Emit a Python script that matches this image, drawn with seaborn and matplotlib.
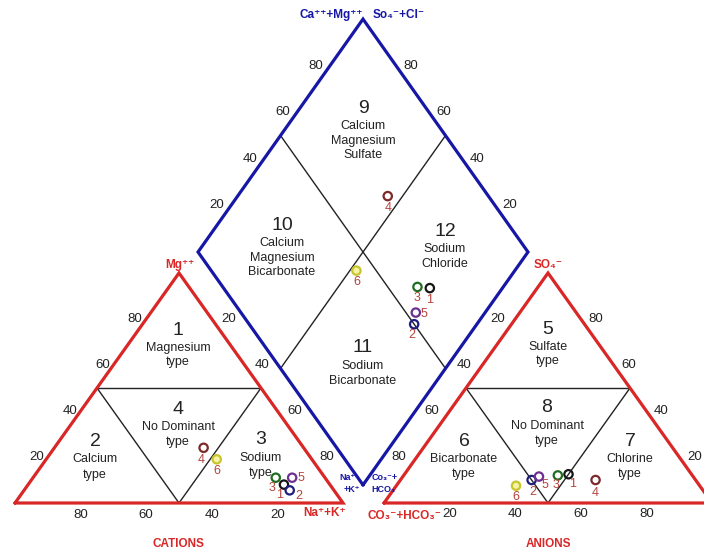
import numpy as np
import pandas as pd
import matplotlib
matplotlib.use("Agg")
import matplotlib.pyplot as plt
import seaborn as sns

# ---------------- data (percent of meq) ----------------
samples = ["1", "2", "3", "4", "5", "6"]
ca = [14.0, 13.5, 15.0, 30.5, 10.0, 29.0]
mg = [8.0, 5.5, 11.0, 24.0, 11.0, 19.0]
nak = [78.0, 81.0, 74.0, 45.5, 79.0, 52.0]
hco3 = [37.5, 50.0, 41.0, 30.5, 47.0, 56.0]
so4 = [12.5, 10.0, 12.0, 10.0, 11.5, 7.5]
cl = [50.0, 40.0, 47.0, 59.5, 41.5, 36.5]
sample_colors = ["#151515", "#1e1e7e", "#1f6d22", "#7c2a2a", "#6c3090", "#c8c62a"]
tick_values = [20, 40, 60, 80]

sns.set_theme(style="white")
plt.rcParams['font.family'] = ['Liberation Sans', 'DejaVu Sans']

RED = "#d92626"
BLUE = "#1717a6"
DARK = "#222222"
LBL = "#b5433d"

W, HP = 704, 553
fig = plt.figure(figsize=(W / 100, HP / 100), dpi=100)
ax = fig.add_axes([0, 0, 1, 1])
X0, SX = 15.0, 3.28
Y0, SY = 503.0, 2.656
ax.set_xlim((0 - X0) / SX, (W - X0) / SX)
ax.set_ylim((Y0 - HP) / SY, Y0 / SY)
ax.axis('off')


def px(x, y):
    return ((x - X0) / SX, (Y0 - y) / SY)


H = 86.6
GAP = 12.5
RX = 100 + GAP
DBX, DBY = 106.1, 6.8
DW, DH = 50.3, 87.7


def cat_xy(c, m, n):
    return n + m / 2.0, m / 100.0 * H


def an_xy(h, s, c):
    return RX + c + s / 2.0, s / 100.0 * H


def dia_xy(a, b):
    return DBX + (a - b) / 100.0 * DW, DBY + (a + b) / 100.0 * DH


# ---------------- outlines ----------------
def tri(ox):
    return [ox, ox + 50, ox + 100, ox], [0, H, 0, 0]


for ox in (0, RX):
    ax.plot([ox + 25, ox + 75], [H / 2, H / 2], color=DARK, lw=1.0, zorder=2)
    ax.plot([ox + 25, ox + 50, ox + 75], [H / 2, 0, H / 2], color=DARK, lw=1.0, zorder=2)
    xs, ys = tri(ox)
    ax.plot(xs, ys, color=RED, lw=2.3, zorder=3, solid_joinstyle='miter')

dx = [DBX, DBX + DW, DBX, DBX - DW, DBX]
dy = [DBY, DBY + DH, DBY + 2 * DH, DBY + DH, DBY]
ax.plot([DBX - DW / 2, DBX + DW / 2], [DBY + 1.5 * DH, DBY + 0.5 * DH], color=DARK, lw=1.0, zorder=2)
ax.plot([DBX + DW / 2, DBX - DW / 2], [DBY + 1.5 * DH, DBY + 0.5 * DH], color=DARK, lw=1.0, zorder=2)
ax.plot(dx, dy, color=BLUE, lw=2.3, zorder=3, solid_joinstyle='miter')

# ---------------- points ----------------
rows = []
for i, s in enumerate(samples):
    x, y = cat_xy(ca[i], mg[i], nak[i])
    rows.append(dict(panel="cat", sample=s, x=x, y=y))
    x, y = an_xy(hco3[i], so4[i], cl[i])
    rows.append(dict(panel="an", sample=s, x=x, y=y))
    x, y = dia_xy(so4[i] + cl[i], ca[i] + mg[i])
    rows.append(dict(panel="dia", sample=s, x=x, y=y))
df = pd.DataFrame(rows)

pal = dict(zip(samples, sample_colors))
sns.scatterplot(data=df, x="x", y="y", hue="sample", palette=pal, s=36,
                legend=False, ax=ax, zorder=6)
coll = ax.collections[-1]
fcs = coll.get_facecolors()
coll.set_edgecolors(fcs)
new_fc = np.zeros_like(fcs)
for k, r in enumerate(df.itertuples()):
    if r.sample == "6":
        new_fc[k] = matplotlib.colors.to_rgba("#f3f39a", 0.9)
coll.set_facecolors(new_fc)
coll.set_linewidths(1.6)

# label offsets (pixels)
offsets = {
    "cat": {"1": (-4, 10), "2": (9, 6), "3": (-4, 10), "4": (-2, 12), "5": (9, 0), "6": (0, 12)},
    "an": {"1": (4, 10), "2": (1, 12), "3": (-2, 10), "4": (0, 13), "5": (6, 8), "6": (0, 11)},
    "dia": {"1": (0, 12), "2": (-2, 11), "3": (0, 11), "4": (0, 12), "5": (8, 1), "6": (0, 11)},
}
for r in df.itertuples():
    ox, oy = offsets[r.panel][r.sample]
    ax.annotate(r.sample, (r.x, r.y), xytext=(ox * 0.72, -oy * 0.72), textcoords="offset points",
                ha="center", va="center", fontsize=9, color=LBL, zorder=7)

# ---------------- tick labels ----------------
tk = dict(fontsize=9.5, color=DARK, ha="center", va="center")
P2X = 0.72 / 1.0
for v in tick_values:
    f = v / 100.0
    # cation left edge (Mg)
    x, y = f * 50, f * H
    ax.annotate(str(v), (x, y), xytext=(-11 * 0.72, 0), textcoords="offset points", **tk)
    # cation bottom (Ca)
    ax.annotate(str(v), (100 - v, 0), xytext=(0, -12 * 0.72), textcoords="offset points", **tk)
    # cation right edge
    ax.annotate(str(v), (50 + 50 * f, H * (1 - f)), xytext=(17 * 0.72, 0), textcoords="offset points", **tk)
    # anion left edge
    ax.annotate(str(v), (RX + 50 - 50 * f, H * (1 - f)), xytext=(-18 * 0.72, 0), textcoords="offset points", **tk)
    # anion right edge (SO4)
    ax.annotate(str(v), (RX + 100 - 50 * f, H * f), xytext=(15 * 0.72, 0), textcoords="offset points", **tk)
    # anion bottom (Cl)
    ax.annotate(str(v), (RX + v, 0), xytext=(0, -11 * 0.72), textcoords="offset points", **tk)
    # diamond upper-left edge (Ca+Mg)
    ax.annotate(str(v), (DBX - DW + f * DW, DBY + DH + f * DH), xytext=(-14 * 0.72, 0),
                textcoords="offset points", **tk)
    # diamond upper-right edge (SO4+Cl)
    ax.annotate(str(v), (DBX + DW - f * DW, DBY + DH + f * DH), xytext=(15 * 0.72, 0),
                textcoords="offset points", **tk)

# ---------------- region labels ----------------
def region(xp, yp, num, lines, dy=15):
    x, y = px(xp, yp)
    ax.text(x, y, num, fontsize=14, color=DARK, ha="center", va="center")
    for k, ln in enumerate(lines):
        x2, y2 = px(xp, yp + 18 + k * dy)
        ax.text(x2, y2, ln, fontsize=9, color=DARK, ha="center", va="center")


region(178, 330, "1", ["Magnesium", "type"], 14)
region(178, 409, "4", ["No Dominant", "type"])
region(95, 441, "2", ["Calcium", "type"], 16)
region(261, 440, "3", ["Sodium", "type"], 15)
region(548, 329, "5", ["Sulfate", "type"], 14)
region(547, 408, "8", ["No Dominant", "type"])
region(464, 441, "6", ["Bicarbonate", "type"])
region(630, 441, "7", ["Chlorine", "type"])
region(363, 108, "9", ["Calcium", "Magnesium", "Sulfate"], 14.5)
region(282, 225, "10", ["Calcium", "Magnesium", "Bicarbonate"], 14.5)
region(445, 231, "12", ["Sodium", "Chloride"], 15)
region(363, 348, "11", ["Sodium", "Bicarbonate"], 14.5)

# ---------------- axis titles ----------------
def lab(xp, yp, s, color, size, weight="bold"):
    x, y = px(xp, yp)
    ax.text(x, y, s, fontsize=size, color=color, ha="center", va="center", fontweight=weight)


lab(331, 15, "Ca⁺⁺+Mg⁺⁺", BLUE, 8.5)
lab(399, 15, "So₄⁻+Cl⁻", BLUE, 8.5)
lab(180, 265, "Mg⁺⁺", RED, 8.5)
lab(548, 265, "SO₄⁻", RED, 8.5)
lab(325, 513, "Na⁺+K⁺", RED, 8.5)
lab(404, 516, "CO₃⁻+HCO₃⁻", RED, 8.5)
lab(178, 544, "CATIONS", RED, 8.5)
lab(548, 544, "ANIONS", RED, 8.5)
lab(347, 477, "Na⁺", BLUE, 6.5)
lab(352, 489, "+K⁺", BLUE, 6.5)
lab(385, 477, "Co₃⁻+", BLUE, 6.5)
lab(383, 489, "HCO₃", BLUE, 6.5)

fig.savefig("out.png", dpi=100, facecolor="white")
